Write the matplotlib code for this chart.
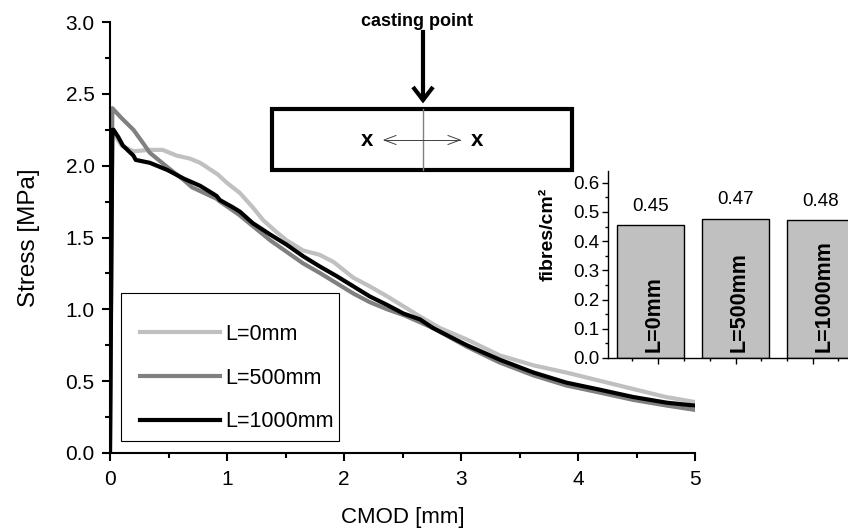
import matplotlib
matplotlib.use("Agg")
import matplotlib.pyplot as plt
from matplotlib.patches import Rectangle
from matplotlib.lines import Line2D
from matplotlib.ticker import MultipleLocator, FixedLocator, FormatStrFormatter

plt.rcParams['font.family'] = ['Liberation Sans', 'DejaVu Sans']

# ---------------- data ----------------
labels = ["L=0mm", "L=500mm", "L=1000mm"]
colors = ["#c0c0c0", "#808080", "#000000"]

cmod_0 = [0, 0.01, 0.05, 0.1, 0.2, 0.34, 0.45, 0.57, 0.68, 0.77, 0.92, 1.0, 1.11, 1.22, 1.31,
          1.42, 1.51, 1.65, 1.79, 1.91, 2.08, 2.22, 2.37, 2.51, 2.65, 2.82, 3.05, 3.33, 3.62,
          3.9, 4.2, 4.5, 4.75, 5.0]
stress_0 = [0, 2.27, 2.20, 2.14, 2.10, 2.11, 2.11, 2.07, 2.05, 2.02, 1.94, 1.88, 1.81, 1.71, 1.62,
            1.54, 1.48, 1.41, 1.38, 1.33, 1.22, 1.16, 1.09, 1.02, 0.95, 0.87, 0.79, 0.68, 0.61,
            0.56, 0.50, 0.44, 0.39, 0.355]

cmod_500 = [0, 0.02, 0.1, 0.2, 0.28, 0.34, 0.49, 0.63, 0.7, 0.91, 0.94, 1.1, 1.22, 1.37, 1.51,
            1.65, 1.8, 1.94, 2.08, 2.22, 2.37, 2.51, 2.65, 2.76, 3.05, 3.33, 3.62, 3.9, 4.19,
            4.47, 4.76, 5.0]
stress_500 = [0, 2.40, 2.33, 2.25, 2.16, 2.09, 1.99, 1.90, 1.85, 1.77, 1.75, 1.66, 1.58, 1.48, 1.40,
              1.32, 1.25, 1.18, 1.11, 1.05, 1.00, 0.96, 0.91, 0.87, 0.74, 0.63, 0.54, 0.47, 0.42,
              0.37, 0.33, 0.30]

cmod_1000 = [0, 0.02, 0.03, 0.07, 0.11, 0.2, 0.22, 0.34, 0.49, 0.63, 0.77, 0.91, 0.94, 1.05, 1.11,
             1.22, 1.37, 1.51, 1.65, 1.79, 1.94, 2.08, 2.22, 2.37, 2.51, 2.65, 2.76, 3.05, 3.33,
             3.62, 3.9, 4.19, 4.47, 4.76, 5.0]
stress_1000 = [0, 2.25, 2.25, 2.20, 2.14, 2.07, 2.04, 2.02, 1.97, 1.91, 1.86, 1.79, 1.76, 1.71, 1.68,
               1.60, 1.52, 1.45, 1.37, 1.30, 1.23, 1.16, 1.09, 1.03, 0.97, 0.93, 0.87, 0.75, 0.65,
               0.56, 0.49, 0.44, 0.39, 0.35, 0.33]

bar_labels = ["L=0mm", "L=500mm", "L=1000mm"]
fibres = [0.455, 0.477, 0.473]
fibre_text = ["0.45", "0.47", "0.48"]

W, H = 848, 529
fig = plt.figure(figsize=(W / 100, H / 100), dpi=100)

def frac(x0, y0, x1, y1):
    # pixel box (top-left origin) -> figure fraction rect
    return [x0 / W, 1 - y1 / H, (x1 - x0) / W, (y1 - y0) / H]

# ---------------- main axes ----------------
ax = fig.add_axes(frac(110, 22, 695, 453))
series = [(cmod_0, stress_0), (cmod_500, stress_500), (cmod_1000, stress_1000)]
for (xs, ys), c, lab in zip(series, colors, labels):
    ax.plot(xs, ys, color=c, lw=3, label=lab, solid_joinstyle='round')
ax.set_xlim(0, 5)
ax.set_ylim(0, 3.0)
for s in ['top', 'right']:
    ax.spines[s].set_visible(False)
for s in ['left', 'bottom']:
    ax.spines[s].set_linewidth(1.5)
ax.xaxis.set_major_locator(MultipleLocator(1))
ax.xaxis.set_minor_locator(MultipleLocator(0.5))
ax.yaxis.set_major_locator(MultipleLocator(0.5))
ax.yaxis.set_minor_locator(MultipleLocator(0.25))
ax.yaxis.set_major_formatter(FormatStrFormatter('%.1f'))
ax.tick_params(which='major', direction='out', length=6, width=1.5, labelsize=15)
ax.tick_params(which='minor', direction='out', length=3.5, width=1.5)
ax.tick_params(axis='x', which='major', pad=6)
ax.tick_params(axis='y', which='major', pad=5)
ax.set_xlabel("CMOD [mm]", fontsize=16, labelpad=13)
ax.set_ylabel("Stress [MPa]", fontsize=17.5, labelpad=18)

leg = ax.legend(loc='center left', bbox_to_anchor=(140 / W, 1 - 378 / H),
                bbox_transform=fig.transFigure, frameon=False, fontsize=15.5,
                handlelength=3.7, handletextpad=0.25, labelspacing=1.05,
                borderpad=0, borderaxespad=0)

# ---------------- overlay for drawings ----------------
ov = fig.add_axes([0, 0, 1, 1], zorder=5)
ov.set_xlim(0, W)
ov.set_ylim(H, 0)
ov.axis('off')
ov.patch.set_alpha(0)

# legend frame
ov.add_patch(Rectangle((121, 293), 218, 148, fill=False, ec='black', lw=0.8))

# schematic
ov.add_patch(Rectangle((272, 109), 300, 61, fill=False, ec='black', lw=3))
ov.add_line(Line2D([423, 423], [109, 170], color='#808080', lw=1))
ov.add_line(Line2D([423, 423], [32, 99], color='black', lw=3))
ov.add_line(Line2D([413, 423, 433], [87, 100, 87], color='black', lw=3,
                   solid_joinstyle='miter', solid_capstyle='butt'))
ov.add_line(Line2D([384, 460], [140, 140], color='#404040', lw=0.7))
ov.add_line(Line2D([396, 384, 396], [135.5, 140, 144.5], color='#404040', lw=0.7))
ov.add_line(Line2D([448, 460, 448], [135.5, 140, 144.5], color='#404040', lw=0.7))
ov.text(417, 21, "casting point", fontsize=13, fontweight='bold', ha='center', va='center')
ov.text(367, 140, "x", fontsize=16, fontweight='bold', ha='center', va='center')
ov.text(477, 140, "x", fontsize=16, fontweight='bold', ha='center', va='center')

# ---------------- inset bar chart ----------------
axi = fig.add_axes(frac(608, 171, 863, 358), zorder=4)
axi.patch.set_alpha(0)
pos = list(range(len(fibres)))
axi.bar(pos, fibres, width=67 / 85, color='#c0c0c0', edgecolor='black', linewidth=1)
axi.set_xlim(-0.5, 2.5)
axi.set_ylim(0, 0.64)
for s in ['top', 'right']:
    axi.spines[s].set_visible(False)
for s in ['left', 'bottom']:
    axi.spines[s].set_linewidth(1)
axi.yaxis.set_major_locator(MultipleLocator(0.1))
axi.yaxis.set_minor_locator(MultipleLocator(0.05))
axi.yaxis.set_major_formatter(FormatStrFormatter('%.1f'))
axi.xaxis.set_major_locator(FixedLocator([0.09, 1.0, 1.91]))
axi.xaxis.set_minor_locator(FixedLocator([-0.22, 0.39, 0.70, 1.30, 1.61, 2.21]))
axi.tick_params(axis='x', which='both', labelbottom=False)
axi.tick_params(which='major', direction='out', length=4, width=1, labelsize=13.5, pad=2)
axi.tick_params(which='minor', direction='out', length=2.5, width=1)
axi.set_ylabel("fibres/cm²", fontsize=14, fontweight='bold')
axi.yaxis.set_label_coords(-0.2, 0.66)
for p, v, lab, t in zip(pos, fibres, bar_labels, fibre_text):
    axi.text(p + 0.04, 0.02, lab, rotation=90, ha='center', va='bottom', fontsize=15.5,
             fontweight='bold')
    axi.text(p, v + 0.035, t, ha='center', va='bottom', fontsize=13.5)

fig.savefig("out.png", dpi=100)
